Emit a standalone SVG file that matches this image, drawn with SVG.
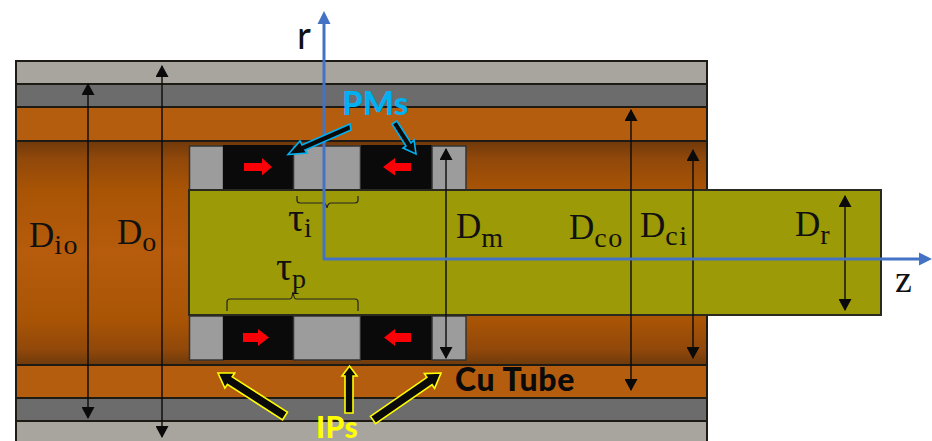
<svg xmlns="http://www.w3.org/2000/svg" width="932" height="441" viewBox="0 0 932 441">
<style>
.o{stroke:#1e1a14;stroke-width:2}
.lg{fill:#a8a59f}.dg{fill:#6c6c6c}.cu{fill:#b55d0e}
.ip{fill:#9c9c9c;stroke:#333;stroke-width:1.5}
.pm{fill:#0a0a0a}
.dim{fill:none;stroke:#0a0a0a;stroke-width:1.4;marker-start:url(#ah);marker-end:url(#ah)}
.br{fill:none;stroke:#222;stroke-width:1.2}
.m{font-family:"Liberation Serif","DejaVu Serif",serif;font-size:35px;fill:#111}
.m tspan{font-size:28px;letter-spacing:1.5px}
.b{font-family:Lato,"Open Sans",sans-serif;font-weight:900}
.red{fill:#fb0007}
.pa{fill:#0a0a0a;stroke:#00b0f0;stroke-width:1.6}
.ya{fill:#0a0a0a;stroke:#ffff00;stroke-width:1.6}
</style>
<defs>
<linearGradient id="gt" x1="0" y1="0" x2="0" y2="1"><stop offset="0" stop-color="#70390a"/><stop offset=".08" stop-color="#91480a"/><stop offset=".22" stop-color="#a95405"/><stop offset=".5" stop-color="#b65c0c"/><stop offset=".8" stop-color="#a95405"/><stop offset=".93" stop-color="#91480a"/><stop offset="1" stop-color="#6e3a0c"/></linearGradient>
<marker id="ah" viewBox="0 0 12 13" refX="11" refY="6.5" markerWidth="12" markerHeight="13" markerUnits="userSpaceOnUse" orient="auto-start-reverse"><path d="M0 0L12 6.5L0 13z" fill="#0a0a0a"/></marker>
</defs>
<g id="stator">
<rect class="lg o" x="16" y="61" width="691" height="23"/>
<rect class="dg o" x="16" y="84" width="691" height="23"/>
<rect class="cu o" x="16" y="107" width="691" height="34"/>
<rect x="16" y="141" width="691" height="224" fill="url(#gt)" stroke="#1e1a14" stroke-width="2"/>
<rect class="cu o" x="16" y="365" width="691" height="33"/>
<rect class="dg o" x="16" y="398" width="691" height="23"/>
<rect class="lg o" x="16" y="421" width="691" height="24"/>
</g>
<g id="magnets-top">
<rect class="ip" x="189.500" y="146" width="34" height="44"/>
<rect class="pm" x="223" y="145" width="71" height="45"/>
<rect class="ip" x="293.500" y="146" width="67" height="44"/>
<rect class="pm" x="361" y="145" width="71" height="45"/>
<rect class="ip" x="432" y="146" width="34" height="44"/>
</g>
<g id="magnets-bottom">
<rect class="ip" x="189.500" y="316" width="34" height="44"/>
<rect class="pm" x="223" y="315" width="71" height="45"/>
<rect class="ip" x="293.500" y="316" width="67" height="44"/>
<rect class="pm" x="361" y="315" width="71" height="45"/>
<rect class="ip" x="432" y="316" width="34" height="44"/>
</g>
<g id="rotor"><rect x="189" y="190" width="692" height="125" fill="#9c9a06" stroke="#2a2a20" stroke-width="2"/></g>
<g id="red-arrows">
<path class="red" d="M244 163h18v-5l10 9-10 8.500v-4.500h-18z"/>
<path class="red" d="M411 163h-16v-5l-12 9 12 8.500v-4.500h16z"/>
<path class="red" d="M243 333h15v-4l11 8.500-11 8.500v-4h-15z"/>
<path class="red" d="M411 333h-16v-4l-11 8.500 11 8.500v-4h16z"/>
</g>
<g id="braces">
<path class="br" d="M297 196v4q0 3 3 3h23q3 0 4 5q1-5 4-5h24q3 0 3-3v-4"/>
<path class="br" d="M227 311v-9q0-3 3-3h60q2 0 3-7q1 7 3 7h59q3 0 3 3v9"/>
</g>
<g id="connectors">
<path class="dim" d="M88 84V418"/>
<path class="dim" d="M162 66V437"/>
<path class="dim" d="M446 149V358"/>
<path class="dim" d="M631 110V390"/>
<path class="dim" d="M693 150V358"/>
<path class="dim" d="M845 196V310"/>
<path d="M324 20V259H922" fill="none" stroke="#4472c4" stroke-width="3" stroke-linejoin="round"/>
<path d="M324 11l-6.500 13h13z" fill="#4472c4"/>
<path d="M932 259l-13 -6.500v13z" fill="#4472c4"/>
</g>
<g id="pm-arrows">
<path class="pa" d="M350 124L351 130L305 150L307 153L288 154.500L300 141L302 145Z"/>
<path class="pa" d="M397 121L392 124L406 146L403 148L416 154L414 140L411 143Z"/>
</g>
<g id="ip-arrows">
<path class="ya" d="M287.400 412.200L232.200 376.800L234.700 373L218 373L224.900 388.200L227.400 384.400L282.600 419.800Z"/>
<path class="ya" d="M345 413H353V376H357L349.500 366L342 376H345Z"/>
<path class="ya" d="M370.400 416.300L426.900 377.300L424.400 373.600L441 373L434.600 388.400L432.100 384.700L375.600 423.700Z"/>
</g>
<g id="labels">
<text x="297" y="49" font-family="Lato,sans-serif" font-size="38" fill="#111">r</text>
<text x="342" y="115" class="b" font-size="33" fill="#00b0f0">PMs</text>
<text x="455" y="391" class="b" font-size="32" fill="#0a0a0a" letter-spacing=".6">Cu Tube</text>
<text x="316" y="438" class="b" font-size="30" fill="#ffff00" letter-spacing=".5">IPs</text>
<text x="895" y="292" class="m" style="font-size:38px">z</text>
<text x="29" y="247" class="m">D<tspan dy="7">io</tspan></text>
<text x="117" y="244" class="m">D<tspan dy="7">o</tspan></text>
<text x="456" y="238" class="m">D<tspan dy="9">m</tspan></text>
<text x="569" y="239" class="m">D<tspan dy="8">co</tspan></text>
<text x="640" y="237" class="m">D<tspan dy="8">ci</tspan></text>
<text x="795" y="236" class="m">D<tspan dy="8">r</tspan></text>
<text x="288" y="231" class="m" style="font-size:40px">τ<tspan dy="6">i</tspan></text>
<text x="276" y="280" class="m" style="font-size:40px">τ<tspan dy="8">p</tspan></text>
</g>
</svg>
